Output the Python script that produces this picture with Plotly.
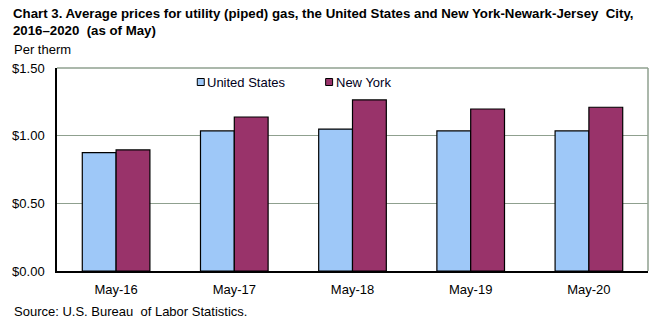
import plotly.graph_objects as go

categories = ["May-16", "May-17", "May-18", "May-19", "May-20"]
us_values = [0.874, 1.035, 1.049, 1.035, 1.035]
ny_values = [0.895, 1.138, 1.264, 1.197, 1.210]
tick_vals = [0, 0.5, 1.0, 1.5]
tick_text = ["$0.00", "$0.50", "$1.00", "$1.50"]
series_names = ["United States", "New York"]
series_colors = ["#9ec8f8", "#99336a"]

FONT = "Arial, Liberation Sans, sans-serif"
L, R, T, B = 54, 14, 68, 52
W, H = 662, 323
PW, PH = W - L - R, H - T - B

def px(x):
    return (x - L) / PW

def py(y):
    return (H - B - y) / PH

fig = go.Figure()
for name, vals, col in zip(series_names, [us_values, ny_values], series_colors):
    fig.add_trace(go.Bar(name=name, x=categories, y=vals, showlegend=False,
                         marker=dict(color=col, line=dict(color="black", width=1.2))))

fig.update_layout(
    width=W, height=H,
    margin=dict(l=L, r=R, t=T, b=B, pad=0),
    paper_bgcolor="white", plot_bgcolor="white",
    barmode="group", bargap=0.428, bargroupgap=0,
    font=dict(family=FONT, size=13, color="black"),
    xaxis=dict(showgrid=False, showline=True, linecolor="black", linewidth=1.5,
               ticks="", tickfont=dict(size=13), ticklabelstandoff=6),
    yaxis=dict(range=[0, 1.5], tickvals=tick_vals, ticktext=tick_text,
               showgrid=True, gridcolor="#8fa08f", gridwidth=1,
               showline=True, linecolor="black", linewidth=1.5, ticks="",
               tickfont=dict(size=13), zeroline=False, ticklabelstandoff=8),
)

# plot box top and right borders (gray)
fig.add_shape(type="line", xref="paper", yref="paper", x0=0, x1=1, y0=1, y1=1,
              line=dict(color="#8fa08f", width=1.5))
fig.add_shape(type="line", xref="paper", yref="paper", x0=1, x1=1, y0=0, y1=1,
              line=dict(color="#8fa08f", width=1.5))

# legend (small square swatches + labels)
legend_x = [195, 324]
for lx, name, col in zip(legend_x, series_names, series_colors):
    fig.add_shape(type="rect", xref="paper", yref="paper",
                  x0=px(lx), x1=px(lx + 7), y0=py(78.5), y1=py(85.5),
                  fillcolor=col, line=dict(color="black", width=1))
    fig.add_annotation(xref="paper", yref="paper", x=px(lx + 8), y=py(82), xanchor="left",
                       yanchor="middle", showarrow=False, text=name,
                       font=dict(family=FONT, size=13, color="#000020"))

fig.add_annotation(xref="paper", yref="paper", x=px(8), y=py(4), xanchor="left", yanchor="top",
                   align="left", showarrow=False,
                   text="<b>Chart 3. Average prices for utility (piped) gas, the United States and New York-Newark-Jersey  City,<br>2016–2020  (as of May)</b>",
                   font=dict(family=FONT, size=13.25, color="black"))
fig.add_annotation(xref="paper", yref="paper", x=px(9), y=py(49), xanchor="left", yanchor="middle",
                   showarrow=False, text="Per therm", font=dict(family=FONT, size=13))
fig.add_annotation(xref="paper", yref="paper", x=px(9), y=py(311), xanchor="left", yanchor="middle",
                   showarrow=False, text="Source: U.S. Bureau  of Labor Statistics.",
                   font=dict(family=FONT, size=13))

fig.write_html("out.html")
